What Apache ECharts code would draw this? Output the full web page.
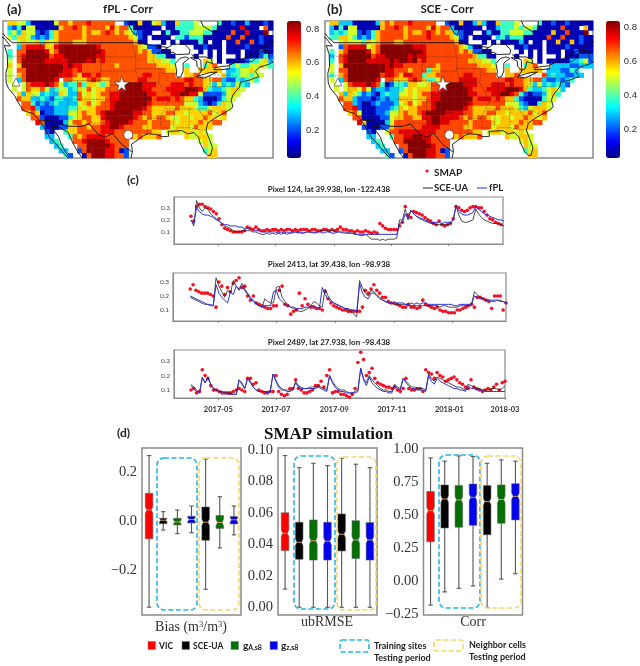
<!DOCTYPE html>
<html>
<head>
<meta charset="utf-8">
<style>
  html, body { margin: 0; padding: 0; background: #fff; }
  #main { width: 640px; height: 666px; filter: blur(0.45px); }
</style>
<script src="https://cdn.jsdelivr.net/npm/echarts@6/dist/echarts.min.js"></script>
</head>
<body>
<div id="main"></div>
<script>
// map cells, one char per 1 degree cell, '.' = no data. levels below give the correlation
var cellLevels = {1: 0.07, 2: 0.2, 3: 0.29, 4: 0.38, 5: 0.5, 6: 0.58, 7: 0.68, 8: 0.76, 9: 0.83};

var mapFpl = [
  ".665531111 1577677787 7777..2116 1156311644 45....4112 11311121",
  ".324155111 1167787677 7768677411 1111.11444 4555541111 18111.71",
  ".453655212 4677777676 6787676532 11..141144 5554411117 1181119.",
  ".546653232 4677777677 7777777652 1.1111.442 4441111171 17111211",
  "...5655646 5677766677 7777777761 1...1.1.11 1141.11.11 71171211",
  "...3788886 6899999999 8777777776 5221...... .112111.11 11211111",
  ".4.7799998 6799999999 9877777776 762211.... ..1.1.1.11 1.111211",
  ".4.7899999 7889999999 8877777777 7664411... .1..1.1... 1.111242",
  ".5.7999998 8888999989 7877777777 7666554... ...65.1.11 11244563",
  ".6.6999999 9998988777 7777677777 7776665..4 ...467...4 54455654",
  ".5.7799999 9998878777 7777777777 7777766..6 ..66666.33 45565...",
  ".5.6799999 9988876887 8777777777 8877777..6 67.....634 455455..",
  ".5.3799999 98.7766678 7667777778 8777777778 8776677322 43454...",
  "..5.578889 8753447466 5467799999 8887778887 8776535343 543.....",
  "..5.576675 3455346575 6677789999 8877788889 9986433456 65......",
  "...6365534 3365337565 6778899999 9887778899 8852222356 5.......",
  "...7663343 2443347665 6678899999 9978887876 6431112455 ........",
  "....774232 3433335675 6778999999 9877777775 553212465. ........",
  "....778322 2333446566 7778999999 8766666766 654456665. ........",
  ".....67612 2333556766 7899999988 7766677665 66667567.. ........",
  "......7721 1122456776 6899999987 6767765566 56676656.. ........",
  ".......871 1113577676 6789999877 7677776566 6676677... ........",
  "........31 1122667767 7889987777 6677775666 57666..... ........",
  ".........2 1..4667777 7888777777 7766.56656 6565...... ........",
  ".........3 3...476788 8877777767 6667.....6 55665..... ........",
  ".......... 34...77899 9987777... .......... ..565..... ........",
  ".......... .34...7799 9998777... .......... ...655.... ........",
  ".......... ..33..2799 9988712... .......... ...456.... ........",
  ".......... ...42..179 9988772... .......... ....66.... ........"
];

var mapSce = [
  ".663331111 1367677787 7777..2116 1136311644 45....4112 11211111",
  ".314155111 1167787677 7768677311 1111.11344 4545541111 17111.61",
  ".343455212 4677777676 6787676632 11..131144 5554411116 1171119.",
  ".446654232 4677777677 7787777652 1.1111.342 4441111171 17111211",
  "...5655546 5677766777 7777777761 1...1.1.11 1131.11.11 61161211",
  "...2788885 6799999998 8877777776 5311...... .112111.11 11211111",
  ".4.6799998 6799999999 9877777776 762211.... ..1.1.1.11 1.112111",
  ".3.7899999 7889999989 8877777777 7764411... .1..1.1... 1.111222",
  ".4.7899998 8888989989 7877777777 7666554... ...65.1.11 11133452",
  ".5.6999999 9998988777 7777677777 7776665..4 ...467...3 33322333",
  ".5.7799999 9998877767 7746677777 7777766..6 ..66666.33 32243...",
  ".4.6799999 9978876887 7466777777 8877777..6 67.....734 332233..",
  ".5.3799999 98.7766678 7644577778 8887777778 8776677322 3234....",
  "..5.578889 8741244366 5567799999 8887778887 8776535343 432.....",
  "..5.566575 2332334565 6667789999 9877788889 9986433456 53......",
  "...6365423 2134335565 6778899999 9887778899 8742122356 4.......",
  "...7663222 1232336665 6678899999 9978887876 6421111455 ........",
  "....773211 2322235675 6778999999 9877777775 553211465. ........",
  "....778211 1222346566 7778999999 8766666766 654356665. ........",
  ".....67511 1223556766 7899998888 7766677665 66667567.. ........",
  "......7711 1122566776 6889988887 6767765566 56676656.. ........",
  ".......861 1113577777 7789988777 7677776566 6676677... ........",
  "........21 1122677777 7888877777 6677775666 57666..... ........",
  ".........2 1..5778888 8888777777 7766.56656 6565...... ........",
  ".........3 3...477889 9887777767 6667.....6 55665..... ........",
  ".......... 34...77999 9987777... .......... ..565..... ........",
  ".......... .34...7799 9998777... .......... ...655.... ........",
  ".......... ..33..2799 9988712... .......... ...456.... ........",
  ".......... ...42..179 9988772... .......... ....66.... ........"
];

var jetColors = ['#00007f', '#0000ff', '#007fff', '#00ffff', '#7fff7f', '#ffff00', '#ff7f00', '#ff0000', '#7f0000'];
var colorbarTicks = [0.2, 0.4, 0.6, 0.8];

// site markers, lon / lat
var siteStar = [-99.5, 40.3];
var siteTriangle = [-122.2, 40.7];
var siteCircle = [-98.1, 29.5];

// outlines in lon / lat
var coastLines = [
  [[-124.7,48.4],[-124.1,46.5],[-124,44],[-124.4,42.5],[-124.3,40.5],[-123.8,39.3],[-122.5,37.8],[-121.9,36.6],[-120.6,34.6],[-118.5,34],[-117.2,32.6],[-116,30.8],[-115,29],[-113.5,27.5],[-112.3,26],[-111,24.6]],
  [[-111,25],[-112.5,27.5],[-113,29],[-114.7,31.3],[-113,31.2],[-111,30],[-110,27.8],[-109,26],[-108,24.6]],
  [[-97.5,24.6],[-97.2,26],[-97.4,27.5],[-96,28.5],[-94.7,29.4],[-93.8,29.7],[-92,29.6],[-90.8,29.1],[-89.4,29.2],[-89.5,30.2],[-88,30.3],[-86.5,30.4],[-85.3,29.7],[-84,30],[-83,29],[-82.7,27.8],[-81.8,26],[-81,25.1],[-80.4,25.2],[-80,26.8],[-80.6,28.4],[-81.4,30.4],[-81,32],[-79.2,33.2],[-77.9,33.9],[-76.5,34.7],[-75.6,35.4],[-76,36.9],[-75.6,37.9],[-75.1,38.6],[-74.2,39.6],[-74,40.6],[-72,41.1],[-70.7,41.6],[-70,41.8],[-70.8,42.9],[-70,43.8],[-68,44.4],[-67,44.9]],
  [[-123,49],[-95.2,49],[-94.6,48.7],[-92,48.3],[-89.6,48]],
  [[-84.5,46.5],[-82.5,45.3],[-82.4,43],[-83.1,42]],
  [[-76.5,44.2],[-75,45],[-71.5,45],[-70.8,45.6],[-70,46.7],[-69.2,47.4],[-68,47.3],[-67.8,45.7],[-67,44.9]],
  [[-76.5,44.2],[-73.5,45.6],[-71,46.9],[-68,48.7],[-66,49.5]],
  [[-117,32.6],[-114.8,32.5],[-111,31.3],[-108.2,31.3],[-106.5,31.8],[-104.5,29.6],[-103,29],[-101.5,29.8],[-99.5,27.5],[-97.3,25.9]],
  [[-92,46.7],[-90.5,46.7],[-88.5,47],[-87.7,46.5],[-85,46.6],[-84.7,46.5],[-84.8,47.5],[-86,48.7],[-88.5,48.7],[-89.5,48],[-92,46.7]],
  [[-87.5,41.7],[-86.8,41.8],[-86.3,43],[-86.3,44.7],[-85,45.7],[-85.8,46],[-87,45.7],[-88,44.6],[-87.7,43],[-87.8,42],[-87.5,41.7]],
  [[-84.7,45.8],[-83.4,45.1],[-83.3,44],[-82.5,43.1],[-81.7,43.5],[-81.3,45],[-80,44.6],[-80.2,45.5],[-81.5,46],[-84,46],[-84.7,45.8]],
  [[-83.4,41.8],[-81.7,41.5],[-79,42.8],[-80.5,42.7],[-83,42],[-83.4,41.8]],
  [[-79.7,43.3],[-78,43.3],[-76.3,43.5],[-76.3,44.1],[-78,44],[-79.5,43.7],[-79.7,43.3]],
  [[-98.5,53.6],[-97,51],[-96.3,50.5],[-96,52],[-96.5,53.6]],
  [[-82.5,53.6],[-82,52.5],[-80,51.3],[-79,51.5],[-78.8,53.6]],
  [[-124.7,48.4],[-123.4,48.3],[-124.8,50],[-127,50.8]],
  [[-123,49],[-124.5,50.3],[-125,51]]
];
var stateLines = [
  [[-124.2,42],[-111,42]],
  [[-124,46.2],[-119,46],[-116.9,46]],
  [[-117,49],[-117,42]],
  [[-120,42],[-120,39],[-114.6,35]],
  [[-114,42],[-114,37],[-114.6,35],[-114.7,32.7]],
  [[-114,37],[-102,37]],
  [[-111,45],[-111,41],[-102,41]],
  [[-111,37],[-111,31.3]],
  [[-109,41],[-109,31.3]],
  [[-116,49],[-116,47.5],[-114,45.5],[-111,44.5]],
  [[-111,45],[-104,45]],
  [[-104,49],[-104,41]],
  [[-104,43],[-96.5,43]],
  [[-104,46],[-96.5,46]],
  [[-102,41],[-102,37]],
  [[-103,37],[-103,32],[-106.6,32]],
  [[-102,40],[-95.3,40]],
  [[-103,36.5],[-100,36.5],[-100,34.5],[-94.5,33.7]],
  [[-94.6,37],[-94.5,33.7],[-94,33],[-94,29.7]],
  [[-97.2,49],[-96.5,46],[-96.5,43],[-95.3,40],[-94.6,39],[-94.6,37]],
  [[-96.5,43.5],[-91.2,43.5]],
  [[-95.7,40.6],[-91.5,40.6]],
  [[-92.5,46.7],[-92.8,45],[-91.2,43.5],[-91.5,40.6],[-89.5,37],[-89.7,36],[-90.3,35],[-91.2,33],[-91,31],[-89.7,31],[-89.5,30.2]],
  [[-91,33],[-94,33]],
  [[-87.8,42.5],[-91,42.5]],
  [[-87.5,41.7],[-87.5,39],[-88,37.8]],
  [[-84.8,41.7],[-84.8,39],[-85.5,38.3],[-88,37.8],[-89.2,37]],
  [[-84.8,41.7],[-80.5,41.9],[-80.5,40.6],[-82,38.5],[-84.8,39]],
  [[-80.5,42],[-80.5,39.7],[-75.5,39.7]],
  [[-79.7,42.2],[-75,42],[-74,41]],
  [[-88.1,35],[-88.4,31]],
  [[-90,35],[-84.3,35],[-81,35],[-78.5,33.9]],
  [[-85,35],[-85,31],[-87.6,31],[-87.5,30.3]],
  [[-85,31],[-82,30.5],[-81.4,30.7]],
  [[-83.1,35],[-81,32]],
  [[-89.5,36.5],[-82,36.6],[-75.8,36.5]],
  [[-82,38.5],[-80,37.5],[-77.5,38.5]]
];

// panel c, soil moisture in hundredths, one value every 3 days from seriesStart
var seriesStart = '2017-04-02';
var timeTicks = ['2017-05-01', '2017-07-01', '2017-09-01', '2017-11-01', '2018-01-01', '2018-03-01'];

var smap124 = [
  23,19,31,33,33,31,30,29,27,25, 21,16,13,12,11,10,10,10,10,11,
  14,13,12,14,12,11,11,12,11,12, 12,11,12,11,12,12,11,12,11,12,
  12,12,11,12,12,11,11,12,12,11, 12,11,12,14,12,12,11,11,10,11,
  10,10,11,10,9,10,9,17,15,13, 12,12,12,12,15,18,31,24,22,27,
  26,25,24,22,20,19,17,16,19,16, 15,16,17,21,31,30,28,27,28,30,
  31,31,30,30,27,24,21,20,18,17,16,15];
var sce124 = [
  20,15,36,30,27,30,29,25,23,21, 19,17,15,14,13,11,10,10,11,11,
  11,11,10,10,9,8,8,9,8,9, 8,9,8,9,8,9,9,10,10,9,
  9,10,10,9,10,10,11,11,11,11, 11,11,10,10,10,10,9,9,9,8,
  7,7,8,6,4,4,4,3,4,3, 4,4,4,5,20,20,29,20,28,25,
  23,21,20,19,18,17,17,16,16,16, 16,16,17,20,32,24,19,18,18,19,
  20,29,25,22,20,19,18,17,17,17,16,15];
var fpl124 = [
  20,17,30,27,25,24,24,23,22,20, 19,17,16,16,15,15,15,14,14,13,
  13,12,12,11,11,10,10,10,10,10, 10,9,10,9,10,9,10,10,9,10,
  9,10,10,10,9,10,10,9,10,10, 9,9,10,10,9,9,9,9,8,8,
  8,8,8,8,8,8,8,8,8,8, 8,8,8,8,17,18,25,21,28,25,
  23,22,21,20,19,18,18,18,18,17, 18,18,18,20,31,27,25,24,24,25,
  26,31,29,27,25,24,23,22,21,20,20,19];

var smap2413 = [
  25,28,24,23,22,22,22,21,20,12, 30,27,21,26,23,29,31,33,26,27,
  20,17,20,15,14,13,12,11,11,13, 13,24,27,14,13,7,9,10,22,13,
  18,14,12,12,11,11,10,23,18,15, 13,12,11,10,10,9,9,9,9,9,
  12,24,22,25,28,24,22,19,19,16, 15,15,14,13,12,12,14,12,12,11,
  12,17,14,13,12,11,12,10,9,9, 8,8,8,10,10,11,12,13,14,12,
  19,19,18,17,16,11,20,20,20,10,15,15];
var sce2413 = [
  19,18,17,16,15,14,14,13,13,33, 27,23,19,24,22,31,27,25,29,25,
  22,19,17,15,13,12,18,16,15,15, 26,27,19,16,14,12,11,10,9,9,
  10,11,13,16,15,13,12,25,20,17, 15,14,13,12,11,10,9,7,5,31,
  26,22,20,24,23,21,19,17,16,15, 15,14,14,14,14,14,13,13,13,13,
  13,13,13,13,13,13,13,12,13,13, 12,12,12,12,13,13,13,13,14,23,
  21,19,18,17,17,16,16,17,17,16,15,15];
var fpl2413 = [
  20,19,18,17,16,15,14,14,13,28, 22,19,17,15,23,21,27,24,27,24,
  21,18,16,14,13,12,13,13,13,23, 24,18,16,14,13,12,12,11,11,11,
  12,12,13,13,12,11,26,21,18,16, 15,14,13,12,11,11,10,10,9,29,
  22,19,18,22,22,20,18,17,16,15, 15,15,15,15,15,14,14,15,14,15,
  14,15,15,14,14,14,14,14,14,14, 14,14,13,13,14,14,14,14,14,20,
  19,18,18,17,17,17,17,17,16,16,15,15];

var smap2489 = [
  10,11,8,9,24,20,18,13,10,10, 9,8,8,8,8,9,10,11,10,9,
  18,18,14,15,10,9,8,8,9,9, 20,9,7,6,7,11,11,17,11,10,
  8,8,9,10,13,13,16,12,20,24, 8,9,9,7,7,6,5,7,11,29,
  36,31,20,22,25,18,15,14,13,12, 12,11,12,10,9,11,18,11,10,10,
  11,11,9,24,22,21,18,22,20,19, 16,17,18,19,17,15,14,12,11,17,
  12,11,10,9,10,11,10,12,14,10,15,16];
var sce2489 = [
  14,12,10,8,18,15,18,14,11,10, 9,9,8,8,8,7,7,17,15,11,
  18,16,12,10,9,9,9,9,9,21, 17,13,11,10,10,10,10,16,13,12,
  11,11,12,12,12,13,12,11,10,20, 16,13,11,10,10,9,8,8,9,10,
  25,18,15,20,17,15,13,11,10,10, 9,9,14,12,11,18,16,14,12,12,
  11,11,11,10,21,18,16,19,18,17, 16,15,14,13,12,12,11,10,14,13,
  12,11,11,10,10,10,11,11,11,10,11,13];
var fpl2489 = [
  13,11,9,8,19,15,19,14,11,10, 9,8,8,7,7,7,7,17,14,11,
  18,15,12,10,9,9,9,8,9,21, 16,12,10,10,9,9,10,15,12,11,
  11,11,11,11,11,12,11,10,9,20, 15,12,10,9,9,8,8,8,8,9,
  25,17,13,19,15,13,11,10,9,9, 8,8,13,11,10,18,15,13,11,11,
  10,10,10,9,20,16,14,18,16,15, 14,13,12,11,11,10,10,9,13,11,
  11,10,10,10,9,9,9,9,9,9,9,9];

// panel d, each box is low, q1, median, q3, high
var boxColors = ['#ff0000', '#000000', '#007000', '#0000ee', '#000000', '#007000', '#0000ee'];
var boxNames = ['VIC', 'SCE-UA', 'gA,s8', 'gz,s8', 'SCE-UA n', 'gA,s8 n', 'gz,s8 n'];
var biasBoxes = [
  [-0.352, -0.073, 0.045, 0.113, 0.267],
  [-0.037, -0.011, 0.003, 0.011, 0.038],
  [-0.052, -0.016, -0.004, 0.011, 0.045],
  [-0.048, -0.008, 0.006, 0.019, 0.061],
  [-0.279, -0.079, -0.005, 0.057, 0.253],
  [-0.110, -0.031, -0.006, 0.022, 0.099],
  [-0.057, -0.012, 0.005, 0.018, 0.061]
];
var ubrmseBoxes = [
  [0.0116, 0.036, 0.047, 0.060, 0.0964],
  [0, 0.0305, 0.0413, 0.054, 0.0887],
  [0, 0.030, 0.0423, 0.0555, 0.0915],
  [0, 0.030, 0.042, 0.054, 0.090],
  [0, 0.0358, 0.0464, 0.0593, 0.0947],
  [0, 0.031, 0.0428, 0.055, 0.0909],
  [0, 0.030, 0.0428, 0.0538, 0.0887]
];
var corrBoxes = [
  [-0.18, 0.30, 0.535, 0.68, 0.935],
  [-0.08, 0.404, 0.624, 0.73, 0.91],
  [-0.053, 0.41, 0.617, 0.725, 0.95],
  [-0.035, 0.424, 0.636, 0.737, 0.945],
  [-0.197, 0.353, 0.604, 0.725, 0.894],
  [0.017, 0.44, 0.62, 0.73, 0.92],
  [0.058, 0.465, 0.644, 0.74, 0.91]
];
var biasTicks = [-0.2, 0, 0.2];
var ubrmseTicks = [0, 0.02, 0.04, 0.06, 0.08, 0.1];
var corrTicks = [-0.25, 0, 0.25, 0.5, 0.75, 1];

var sansFont = 'Lato, "Noto Sans", sans-serif';
var serifFont = '"Liberation Serif", serif';
var frameColor = '#8a8a8a';

var chart = echarts.init(document.getElementById('main'), null, {renderer: 'canvas'});

var grids = [], xAxes = [], yAxes = [], series = [], visualMaps = [];

function addGrid(left, top, width, height, border) {
    grids.push({
        left: left, top: top, width: width, height: height, containLabel: false,
        show: !!border, borderColor: frameColor, borderWidth: border || 0, backgroundColor: 'transparent'
    });
    return grids.length - 1;
}

function hiddenAxis(index, extra) {
    return Object.assign({gridIndex: index, show: false, axisLine: {show: false}, splitLine: {show: false}, axisTick: {show: false}, axisLabel: {show: false}}, extra);
}

function heatCells(rows) {
    var out = [];
    rows.forEach(function (row, r) {
        var cells = row.replace(/ /g, '');
        for (var c = 0; c < cells.length; c++) {
            if (cells[c] !== '.') out.push([c, r, cellLevels[cells[c]]]);
        }
    });
    return out;
}

function addMap(rows, box, bar) {
    var g = addGrid(box.left, box.top, box.width, box.height, 1.5);
    var cols = [], lats = [];
    for (var i = 0; i < 58; i++) cols.push(String(i));
    for (var j = 0; j < rows.length; j++) lats.push(String(j));
    xAxes.push(hiddenAxis(g, {type: 'category', data: cols}));
    yAxes.push(hiddenAxis(g, {type: 'category', data: lats, inverse: true}));
    var heatIndex = series.length;
    series.push({type: 'heatmap', xAxisIndex: xAxes.length - 1, yAxisIndex: yAxes.length - 1, data: heatCells(rows), progressive: 0, z: 1});

    // outlines and markers sit on a lon / lat grid over the cells
    var o = addGrid(box.left, box.top, box.width, box.height);
    xAxes.push(hiddenAxis(o, {type: 'value', min: -125, max: -67}));
    yAxes.push(hiddenAxis(o, {type: 'value', min: 24.6, max: 53.6}));
    var xi = xAxes.length - 1, yi = yAxes.length - 1;
    stateLines.forEach(function (line) {
        series.push({type: 'line', xAxisIndex: xi, yAxisIndex: yi, data: line, symbol: 'none', silent: true, z: 2,
            lineStyle: {color: '#222', width: 0.6, type: [2, 1], opacity: 0.65}});
    });
    coastLines.forEach(function (line) {
        series.push({type: 'line', xAxisIndex: xi, yAxisIndex: yi, data: line, symbol: 'none', silent: true, z: 3,
            lineStyle: {color: '#111', width: 0.9}});
    });
    var marks = [[siteStar, 'path://M50 0 L62 36 L100 36 L69 58 L81 95 L50 72 L19 95 L31 58 L0 36 L38 36 Z', 15],
        [siteTriangle, 'triangle', 8], [siteCircle, 'circle', 9]];
    marks.forEach(function (m) {
        series.push({type: 'scatter', xAxisIndex: xi, yAxisIndex: yi, data: [m[0]], symbol: m[1], symbolSize: m[2], silent: true, z: 4,
            itemStyle: {color: '#fff', borderColor: '#333', borderWidth: 0.6, opacity: 1}});
    });

    // colour bar: the strip is the visualMap, the ticks come from a small axis over it
    visualMaps.push({
        type: 'continuous', seriesIndex: heatIndex, min: bar.min, max: bar.max, show: true,
        left: bar.left, top: box.top, itemWidth: 14, itemHeight: box.height, padding: 0,
        text: null, calculable: false, realtime: false, inRange: {color: jetColors}, textStyle: {fontSize: 0}
    });
    var b = addGrid(bar.left, box.top, 14, box.height);
    xAxes.push(hiddenAxis(b, {type: 'value', min: 0, max: 1}));
    yAxes.push({
        gridIndex: b, type: 'value', min: bar.min, max: bar.max, position: 'right', splitLine: {show: false},
        axisLine: {show: false}, axisTick: {show: true, length: 2.5, customValues: colorbarTicks, lineStyle: {color: '#333', width: 0.7}},
        axisLabel: {customValues: colorbarTicks, margin: 5, fontFamily: '"Liberation Sans", sans-serif', fontSize: 9.5, color: '#333', formatter: function (v) { return v.toFixed(1); }}
    });
}

function seriesPoints(values) {
    var t0 = Date.parse(seriesStart), day = 86400000;
    return values.map(function (v, i) { return [t0 + i * 3 * day, v / 100]; });
}

function addPixel(panel) {
    var g = addGrid(panel.left, panel.top, panel.width, panel.height, 1.2);
    var ticks = timeTicks.map(function (d) { return Date.parse(d); });
    xAxes.push({
        gridIndex: g, type: 'value', min: Date.parse(panel.from), max: Date.parse(panel.to), splitLine: {show: false},
        axisLine: {lineStyle: {color: frameColor}},
        axisTick: {length: 2, customValues: ticks, lineStyle: {color: '#666', width: 0.7}},
        axisLabel: {
            show: panel.labels, customValues: ticks, margin: 8, fontFamily: sansFont, fontWeight: 'bold', fontSize: 7.5, color: '#333',
            formatter: function (v) { return echarts.time.format(v, '{yyyy}-{MM}', true); }
        }
    });
    yAxes.push({
        gridIndex: g, type: 'value', min: panel.ymin, max: panel.ymax, splitLine: {show: false},
        axisLine: {show: true, lineStyle: {color: frameColor}},
        axisTick: {show: false, customValues: [0.1, 0.2, 0.3]},
        axisLabel: {customValues: [0.1, 0.2, 0.3], margin: 4, fontFamily: sansFont, fontSize: 6.5, color: '#444', formatter: function (v) { return v.toFixed(1); }}
    });
    var xi = xAxes.length - 1, yi = yAxes.length - 1;
    series.push({name: 'SMAP', type: 'scatter', xAxisIndex: xi, yAxisIndex: yi, data: seriesPoints(panel.smap), symbolSize: 3.6, itemStyle: {color: '#f50f20', opacity: 1}, z: 2});
    series.push({name: 'SCE-UA', type: 'line', xAxisIndex: xi, yAxisIndex: yi, data: seriesPoints(panel.sce), symbol: 'none', lineStyle: {color: '#222', width: 0.8}, z: 3});
    series.push({name: 'fPL', type: 'line', xAxisIndex: xi, yAxisIndex: yi, data: seriesPoints(panel.fpl), symbol: 'none', lineStyle: {color: '#2a30e0', width: 1}, z: 4});
}

function renderBox(params, api) {
    var low = api.coord([api.value(0), api.value(1)]);
    var q1 = api.coord([api.value(0), api.value(2)])[1];
    var med = api.coord([api.value(0), api.value(3)])[1];
    var q3 = api.coord([api.value(0), api.value(4)])[1];
    var high = api.coord([api.value(0), api.value(5)])[1];
    var cx = low[0], hw = 3.8, nw = 2.3;
    var nh = Math.min(3.3, (q1 - q3) * 0.3);
    var color = boxColors[params.dataIndex];
    var whisker = {stroke: '#555', lineWidth: 1.1};
    return {
        type: 'group',
        children: [
            {type: 'line', shape: {x1: cx, y1: low[1], x2: cx, y2: high}, style: whisker},
            {type: 'line', shape: {x1: cx - 2.2, y1: low[1], x2: cx + 2.2, y2: low[1]}, style: whisker},
            {type: 'line', shape: {x1: cx - 2.2, y1: high, x2: cx + 2.2, y2: high}, style: whisker},
            {type: 'polygon', shape: {points: [
                [cx - hw, q1], [cx + hw, q1], [cx + hw, med + nh], [cx + nw, med], [cx + hw, med - nh], [cx + hw, q3],
                [cx - hw, q3], [cx - hw, med - nh], [cx - nw, med], [cx - hw, med + nh]
            ]}, style: {fill: color, stroke: '#666', lineWidth: 0.6}},
            {type: 'line', shape: {x1: cx - nw, y1: med, x2: cx + nw, y2: med}, style: {stroke: '#f4a060', lineWidth: 0.9}}
        ]
    };
}

function addBoxes(boxes, ticks, decimals, rect) {
    var g = addGrid(rect.left, 448, rect.width, 167, 1.5);
    xAxes.push({gridIndex: g, type: 'category', data: boxNames, axisLine: {show: false}, axisTick: {show: false}, axisLabel: {show: false}});
    yAxes.push({
        gridIndex: g, type: 'value', min: rect.min, max: rect.max, splitLine: {show: false},
        axisLine: {show: false},
        axisTick: {length: 3, customValues: ticks, lineStyle: {color: '#777', width: 1}},
        axisLabel: {
            customValues: ticks, margin: 5, fontFamily: serifFont, fontSize: 14.5, color: '#333',
            formatter: function (v) { return (v < 0 ? '\u2212' : '') + Math.abs(v).toFixed(decimals); }
        }
    });
    series.push({
        type: 'custom', xAxisIndex: xAxes.length - 1, yAxisIndex: yAxes.length - 1, renderItem: renderBox, clip: false,
        encode: {x: 0, y: [1, 2, 3, 4, 5]},
        data: boxes.map(function (b, i) { return [i].concat(b); }), z: 2
    });
}

addMap(mapFpl, {left: 3, top: 21, width: 270, height: 137}, {left: 287, min: 0.034, max: 0.847});
addMap(mapSce, {left: 325, top: 21, width: 268, height: 137}, {left: 606, min: 0.03, max: 0.835});

addPixel({left: 174, top: 197, width: 329, height: 47, ymin: 0, ymax: 0.39, from: '2017-03-15', to: '2018-02-28', labels: false, smap: smap124, sce: sce124, fpl: fpl124});
addPixel({left: 173, top: 273, width: 333, height: 48, ymin: 0.021, ymax: 0.364, from: '2017-03-15', to: '2018-02-26', labels: false, smap: smap2413, sce: sce2413, fpl: fpl2413});
addPixel({left: 174, top: 350, width: 331, height: 48, ymin: 0.045, ymax: 0.376, from: '2017-03-15', to: '2018-03-01', labels: true, smap: smap2489, sce: sce2489, fpl: fpl2489});

addBoxes(biasBoxes, biasTicks, 1, {left: 142, width: 99, min: -0.384, max: 0.298});
addBoxes(ubrmseBoxes, ubrmseTicks, 2, {left: 278, width: 99, min: -0.0049, max: 0.1012});
addBoxes(corrBoxes, corrTicks, 2, {left: 423.5, width: 99, min: -0.255, max: 1.01});

// annotation layer: titles, hand drawn style legends, dashed period boxes
function label(x, y, text, size, opts) {
    opts = opts || {};
    return {
        type: 'text', z: 20, silent: true,
        style: {
            x: x, y: y, text: text, textAlign: opts.align || 'left', textVerticalAlign: 'middle',
            fontFamily: opts.family || sansFont, fontWeight: opts.weight || 'bold', fontSize: size, fill: opts.color || '#222',
            rich: opts.rich
        }
    };
}

function dashedBox(x, y, w, h, color, r) {
    return {
        type: 'rect', z: 19, silent: true, shape: {x: x, y: y, width: w, height: h, r: r},
        style: {fill: 'transparent', stroke: color, lineWidth: 1.6, lineDash: [5, 2.5]}
    };
}

function swatch(x, color) {
    return {type: 'rect', z: 19, silent: true, shape: {x: x, y: 641.5, width: 7.5, height: 8}, style: {fill: color, stroke: '#777', lineWidth: 0.5}};
}

var boxBlue = '#27b4ee', boxYellow = '#f8d468';
var subStyle = {sub: {fontSize: 7, fontFamily: sansFont, fontWeight: 'bold', fill: '#222', verticalAlign: 'bottom', padding: [4, 0, 0, 0]}};
var supStyle = {sup: {fontSize: 8.5, fontFamily: serifFont, fill: '#333', verticalAlign: 'top', padding: [0, 0, 5, 0]}};

var graphics = [
    label(7, 9, '(a)', 14),
    label(128, 9, 'fPL - Corr', 11.5, {align: 'center'}),
    label(327, 9, '(b)', 14),
    label(447, 9, 'SCE - Corr', 11.5, {align: 'center'}),
    label(127, 180, '(c)', 12),
    label(117, 433, '(d)', 12),
    label(329, 189, 'Pixel 124, lat 39.938, lon -122.438', 8, {align: 'center'}),
    label(329, 264, 'Pixel 2413, lat 39.438, lon -98.938', 8, {align: 'center'}),
    label(329, 342, 'Pixel 2489, lat 27.938, lon -98.438', 8, {align: 'center'}),
    {type: 'circle', z: 19, silent: true, shape: {cx: 427, cy: 171, r: 1.6}, style: {fill: '#f50f20'}},
    label(434, 173, 'SMAP', 10),
    {type: 'line', z: 19, silent: true, shape: {x1: 423, y1: 188, x2: 433, y2: 188}, style: {stroke: '#222', lineWidth: 1}},
    label(434, 188, 'SCE-UA', 9.5),
    {type: 'line', z: 19, silent: true, shape: {x1: 477, y1: 188, x2: 487, y2: 188}, style: {stroke: '#2a30e0', lineWidth: 1}},
    label(489, 188, 'fPL', 9.5),
    label(328.5, 435, 'SMAP simulation', 17, {align: 'center', family: serifFont, color: '#111'}),
    label(191, 627, 'Bias (m{sup|3}/m{sup|3})', 14, {align: 'center', family: serifFont, weight: 'normal', color: '#333', rich: supStyle}),
    label(327, 622, 'ubRMSE', 14, {align: 'center', family: serifFont, weight: 'normal', color: '#333'}),
    label(473, 622, 'Corr', 14, {align: 'center', family: serifFont, weight: 'normal', color: '#333'}),
    dashedBox(157, 458, 40, 152, boxBlue, 7),
    dashedBox(199, 458, 40, 152, boxYellow, 7),
    dashedBox(294, 456, 41, 153, boxBlue, 7),
    dashedBox(337, 457, 39, 153, boxYellow, 7),
    dashedBox(439, 455, 41, 153, boxBlue, 7),
    dashedBox(481, 456, 40, 152, boxYellow, 7),
    swatch(148, '#ff0000'), label(159, 646, 'VIC', 8.5),
    swatch(182, '#000000'), label(193, 646, 'SCE-UA', 8.5),
    swatch(231, '#007000'), label(243, 646, 'g{sub|A,s8}', 10, {rich: subStyle}),
    swatch(270, '#0000ee'), label(281, 646, 'g{sub|z,s8}', 10, {rich: subStyle}),
    dashedBox(340, 640, 29, 12, boxBlue, 2),
    label(374, 646, 'Training sites', 9),
    label(374, 658, 'Testing period', 9),
    dashedBox(434, 640, 29, 11, boxYellow, 2),
    label(469, 645, 'Neighbor cells', 9),
    label(469, 657, 'Testing period', 9)
];

chart.setOption({
    animation: false,
    useUTC: true,
    backgroundColor: '#fff',
    grid: grids,
    xAxis: xAxes,
    yAxis: yAxes,
    visualMap: visualMaps,
    series: series,
    graphic: {elements: graphics}
});

window.addEventListener('resize', function () {
    chart.resize();
});
</script>
</body>
</html>
